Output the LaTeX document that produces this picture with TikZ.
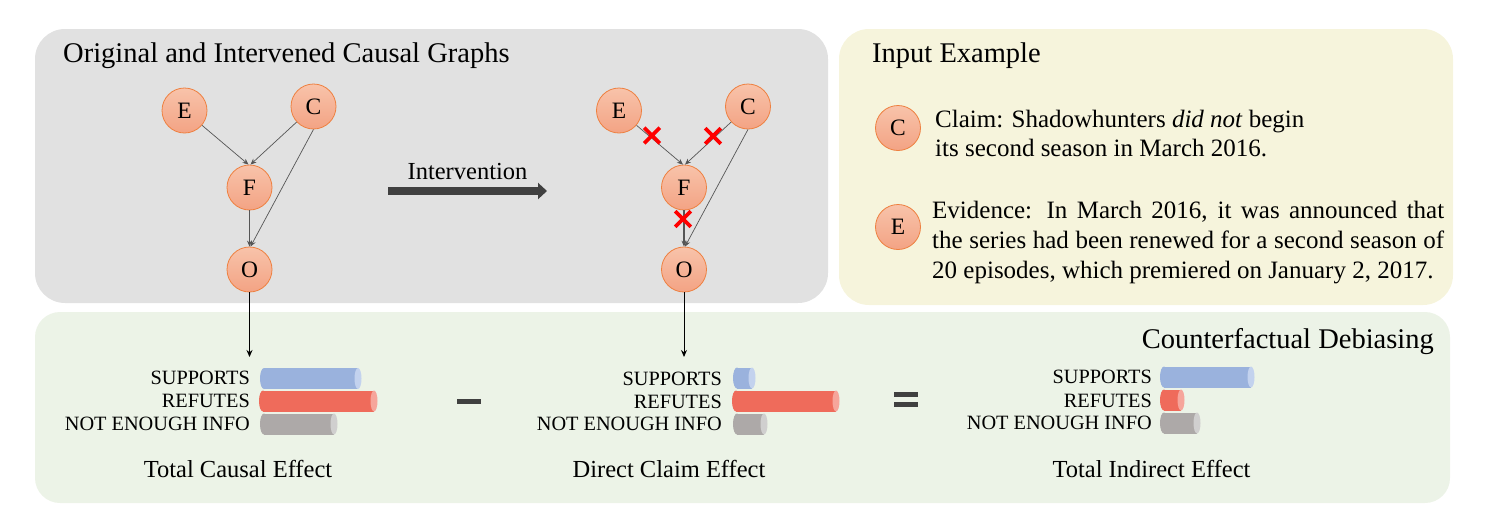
\documentclass[tikz,border=0pt]{standalone}
\usepackage{fontspec}
\setmainfont{Liberation Serif}
\usetikzlibrary{arrows.meta,shapes.misc}
\definecolor{panelgray}{HTML}{E1E1E1}
\definecolor{panelyellow}{HTML}{F6F4DC}
\definecolor{panelgreen}{HTML}{ECF3E7}
\definecolor{nodetop}{HTML}{F8C3AA}
\definecolor{nodebot}{HTML}{F3A384}
\definecolor{nodeline}{HTML}{EE8040}
\definecolor{supbody}{HTML}{9AB2DD}
\definecolor{supcap}{HTML}{C3D2EE}
\definecolor{refbody}{HTML}{EF6B5B}
\definecolor{refcap}{HTML}{F6A59B}
\definecolor{neibody}{HTML}{ADA9A8}
\definecolor{neicap}{HTML}{D0CFCF}
\definecolor{darkarrow}{HTML}{404040}
\definecolor{edgegray}{HTML}{555555}
\newcommand{\cylbar}[5]{%
  \fill[#4] (#1+4,#3-10.5) rectangle (#2,#3+10.5);
  \fill[#4] (#1+4,#3) ellipse [x radius=4pt, y radius=10.5pt];
  \fill[#5] (#2,#3) ellipse [x radius=3.5pt, y radius=10.5pt];
}
\begin{document}
\begin{tikzpicture}[x=1pt,y=-1pt,
  cnode/.style={circle, minimum size=45pt, inner sep=0pt, top color=nodetop, bottom color=nodebot, draw=nodeline, line width=0.8pt, font=\fontsize{23.5}{27}\selectfont},
  cedge/.style={draw=edgegray, line width=0.7pt, -{Stealth[length=6pt,width=5pt]}},
  outarrow/.style={draw=black, line width=1pt, -{Stealth[length=7pt,width=6pt]}},
  xmark/.style={cross out, draw=red, line width=3.6pt, minimum size=12pt, inner sep=0pt},
  title/.style={font=\fontsize{28.5}{34}\selectfont, inner sep=0pt},
  lab/.style={font=\fontsize{20.3}{24}\selectfont, anchor=base east, inner sep=0pt},
  caption/.style={font=\fontsize{24.5}{29}\selectfont, anchor=base, inner sep=0pt},
  body/.style={font=\fontsize{25}{29}\selectfont, anchor=base west, inner sep=0pt},
  sign/.style={draw=darkarrow, line width=5pt}
]
\useasboundingbox (0,0) rectangle (1496,523);
% panels
\fill[panelgray, rounded corners=30pt] (35,29) rectangle (828,303);
\fill[panelyellow, rounded corners=30pt] (839,29) rectangle (1453,305);
\fill[panelgreen, rounded corners=25pt] (35,312) rectangle (1450,503);

% titles
\node[title, anchor=base west] (t1) at (63,62) {Original and Intervened Causal Graphs};
\node[title, anchor=base west] (t2) at (872,62) {Input Example};
\node[title, anchor=base east] (t3) at (1434,348) {Counterfactual Debiasing};

% original graph
\node[cnode] (E1) at (184.5,110.5) {E};
\node[cnode] (C1) at (313.5,106.5) {C};
\node[cnode] (F1) at (249.5,187.5) {F};
\node[cnode] (O1) at (249.5,269.5) {O};
\draw[cedge] (E1) -- ([xshift=-1pt]F1.north);
\draw[cedge] (C1) -- ([xshift=1pt]F1.north);
\draw[cedge] (F1) -- (O1);
\draw[cedge] (C1.south) -- ([xshift=1pt]O1.north);

% intervened graph
\node[cnode] (E2) at (619,110.5) {E};
\node[cnode] (C2) at (748,106.5) {C};
\node[cnode] (F2) at (684,187.5) {F};
\node[cnode] (O2) at (684,269.5) {O};
\draw[cedge] (E2) -- ([xshift=-1pt]F2.north);
\draw[cedge] (C2) -- ([xshift=1pt]F2.north);
\draw[cedge, line width=1.1pt] (F2) -- (O2);
\draw[cedge] (C2.south) -- ([xshift=1pt]O2.north);
\node[xmark] (x1) at (652,135.5) {};
\node[xmark] (x2) at (713,136) {};
\node[xmark] (x3) at (683,219) {};

% intervention arrow
\coordinate (ivs) at (388,191);
\coordinate (ive) at (547,191);
\draw[line width=8pt, darkarrow, -{Triangle[length=9pt,width=16pt]}] (ivs) -- (ive);
\node[font=\fontsize{24.5}{28}\selectfont, anchor=base, inner sep=0pt] (ivl) at (467.5,179) {Intervention};

% input example
\node[cnode] (Ci) at (898,128) {C};
\node[cnode] (Ei) at (898,227) {E};
\node[body] (cl1) at (935,127) {Claim: Shadowhunters \textit{did not} begin};
\node[body] (cl2) at (935,156) {its second season in March 2016.};
\node[body] (ev1) at (932,218) {\makebox[512pt][s]{Evidence: In March 2016, it was announced that}};
\node[body] (ev2) at (932,248) {\makebox[512pt][s]{the series had been renewed for a second season of}};
\node[body] (ev3) at (932,278) {20 episodes, which premiered on January 2, 2017.};

% arrows down
\coordinate (d1) at (249.5,357);
\coordinate (d2) at (684,357);
\draw[outarrow] (O1) -- (d1);
\draw[outarrow] (O2) -- (d2);

% bars left
\node[lab] (l1s) at (250,384) {SUPPORTS};
\node[lab] (l1r) at (250,407) {REFUTES};
\node[lab] (l1n) at (250,430) {NOT ENOUGH INFO};
\cylbar{260}{358}{378.5}{supbody}{supcap}
\cylbar{259}{374}{401}{refbody}{refcap}
\cylbar{260}{334}{424}{neibody}{neicap}
\node[caption] (cap1) at (238,477) {Total Causal Effect};

% bars middle
\node[lab] (l2s) at (722,385) {SUPPORTS};
\node[lab] (l2r) at (722,408) {REFUTES};
\node[lab] (l2n) at (722,430) {NOT ENOUGH INFO};
\cylbar{733}{752}{378}{supbody}{supcap}
\cylbar{732}{836}{401}{refbody}{refcap}
\cylbar{733}{764}{424}{neibody}{neicap}
\node[caption] (cap2) at (669,477) {Direct Claim Effect};

% bars right
\node[lab] (l3s) at (1152,383) {SUPPORTS};
\node[lab] (l3r) at (1152,407) {REFUTES};
\node[lab] (l3n) at (1152,429) {NOT ENOUGH INFO};
\cylbar{1160}{1251}{377}{supbody}{supcap}
\cylbar{1160}{1181}{400}{refbody}{refcap}
\cylbar{1160}{1197}{423}{neibody}{neicap}
\node[caption] (cap3) at (1151.5,477) {Total Indirect Effect};

% signs
\draw[sign] (457,401) -- (481,401);
\draw[sign] (894,394.5) -- (918,394.5);
\draw[sign] (894,404.5) -- (918,404.5);
\end{tikzpicture}
\end{document}
